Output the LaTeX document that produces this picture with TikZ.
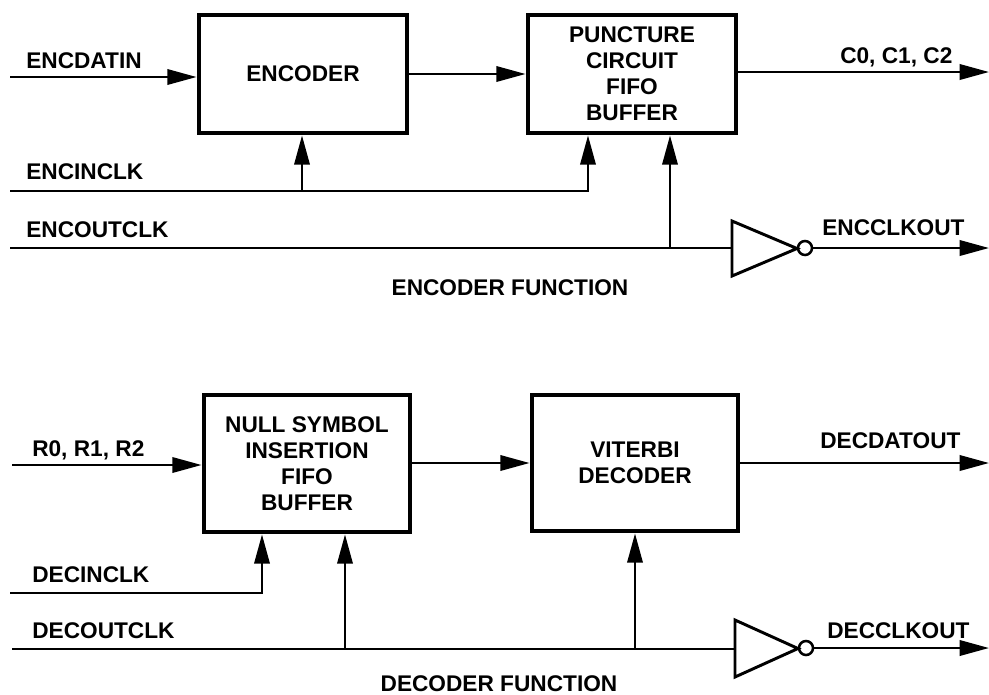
\documentclass[tikz,border=0pt]{standalone}
\usepackage{fontspec}
\setmainfont{Liberation Sans}
\usetikzlibrary{arrows.meta}
\begin{document}
\begin{tikzpicture}[x=0.75pt,y=-0.75pt,
  font=\fontsize{17}{19.5}\selectfont\bfseries,
  sig/.style={line width=1.9pt},
  arr/.style={sig,-{Triangle[length=22pt,width=11.5pt]}},
  blk/.style={draw,line width=3.6pt,align=center,inner sep=0pt},
  gate/.style={line width=2.2pt,line join=miter},
  bub/.style={circle,draw,line width=1.9pt,minimum size=10.5pt,inner sep=0pt},
  lbl/.style={anchor=base west,inner sep=0pt},
  ttl/.style={anchor=base,inner sep=0pt}]
\useasboundingbox (0,0) rectangle (989,694);

% ---------------- encoder section ----------------
\node[blk,minimum width=156pt,minimum height=88.5pt] (enc) at (303,74) {ENCODER};
\node[blk,minimum width=156pt,minimum height=88.5pt] (pnc) at (632,74)
  {PUNCTURE\\CIRCUIT\\FIFO\\BUFFER};

\coordinate (edin) at (10,77);
\coordinate (ecout) at (989,72);
\coordinate (eck1) at (10,191);
\coordinate (eck1a) at (302,191);
\coordinate (eck1b) at (588,191);
\coordinate (eck2) at (10,248);
\coordinate (eck2a) at (670,248);
\coordinate (einv) at (732,248);
\coordinate (eclk) at (989,248);

\draw[arr] (edin) -- (edin -| enc.west);
\draw[arr] (enc.east) -- (pnc.west);
\draw[arr] (pnc.east |- ecout) -- (ecout);
\draw[arr] (eck1) -- (eck1b) -- (eck1b |- pnc.south);
\draw[arr] (eck1a) -- (eck1a |- enc.south);
\draw[sig] (eck2) -- (einv);
\draw[arr] (eck2a) -- (eck2a |- pnc.south);

\draw[gate] (732,221) -- (732,276) -- (797,248.5) -- cycle;
\node[bub] (eb) at (805,248) {};
\draw[arr] (eb.east) -- (eclk);

\node[lbl] (l1) at (26,68) {ENCDATIN};
\node[lbl] (l2) at (26,179) {ENCINCLK};
\node[lbl] (l3) at (26,237) {ENCOUTCLK};
\node[lbl] (l4) at (840,63) {C0, C1, C2};
\node[lbl] (l5) at (822,235) {ENCCLKOUT};
\node[ttl] (t1) at (510,295) {ENCODER FUNCTION};

% ---------------- decoder section ----------------
\node[blk,minimum width=154.5pt,minimum height=102.75pt] (nsi) at (307,463.5)
  {NULL SYMBOL\\INSERTION\\FIFO\\BUFFER};
\node[blk,minimum width=154.5pt,minimum height=102pt] (vit) at (635,463)
  {VITERBI\\DECODER};

\coordinate (drin) at (12,465);
\coordinate (ddout) at (989,463);
\coordinate (dck1) at (10,593);
\coordinate (dck1a) at (262,593);
\coordinate (dck2) at (12,649);
\coordinate (dck2a) at (345,649);
\coordinate (dck2b) at (635,649);
\coordinate (dinv) at (735,649);
\coordinate (dclk) at (989,648);

\draw[arr] (drin) -- (drin -| nsi.west);
\draw[arr] (nsi.east |- vit.west) -- (vit.west);
\draw[arr] (vit.east |- ddout) -- (ddout);
\draw[arr] (dck1) -- (dck1a) -- (dck1a |- nsi.south);
\draw[sig] (dck2) -- (dinv);
\draw[arr] (dck2a) -- (dck2a |- nsi.south);
\draw[arr] (dck2b) -- (dck2b |- vit.south);

\draw[gate] (735,620) -- (735,677) -- (798,648.5) -- cycle;
\node[bub] (db) at (806,648) {};
\draw[arr] (db.east) -- (dclk);

\node[lbl] (m1) at (32,456) {R0, R1, R2};
\node[lbl] (m2) at (32,582) {DECINCLK};
\node[lbl] (m3) at (32,638) {DECOUTCLK};
\node[lbl] (m4) at (820,448) {DECDATOUT};
\node[lbl] (m5) at (827,638) {DECCLKOUT};
\node[ttl] (t2) at (499,691) {DECODER FUNCTION};
\end{tikzpicture}
\end{document}
